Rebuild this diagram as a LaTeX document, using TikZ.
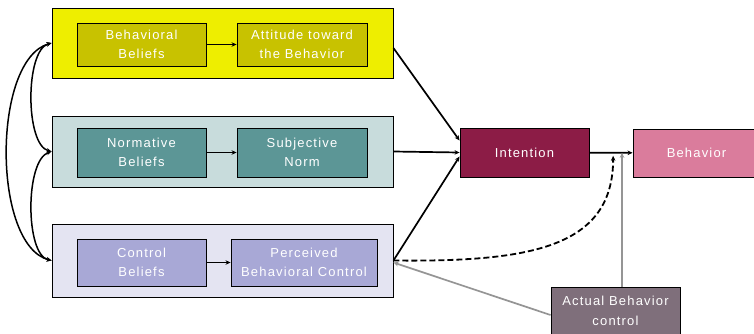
\documentclass[tikz,border=0pt]{standalone}
\usepackage{fontspec}
\newfontfamily\lblfont[LetterSpace=9]{Liberation Sans}
\usetikzlibrary{arrows.meta,calc}
\definecolor{yelout}{HTML}{EEEE00}
\definecolor{yelin}{HTML}{C8C200}
\definecolor{tealout}{HTML}{C8DCDC}
\definecolor{tealin}{HTML}{5C9696}
\definecolor{lavout}{HTML}{E4E4F2}
\definecolor{lavin}{HTML}{A8A8D6}
\definecolor{intcol}{HTML}{8C1C46}
\definecolor{behcol}{HTML}{DA7C9C}
\definecolor{abccol}{HTML}{7F6F7B}
\definecolor{greyline}{HTML}{959595}
\begin{document}
\begin{tikzpicture}[x=1pt,y=-1pt,
  outerbox/.style={draw=black,line width=0.9pt,minimum width=341pt,inner sep=0pt},
  innerbox/.style={draw=black,line width=0.9pt,minimum height=47pt,inner sep=1pt,
     text=white,align=center,font=\lblfont\fontsize{13}{19.5}\selectfont},
  conn/.style={line width=1.7pt,-{Stealth[length=5pt,width=4.5pt]}},
  both/.style={line width=1.5pt,{Stealth[length=5pt,width=4.5pt]}-{Stealth[length=5pt,width=4.5pt]}},
  greyconn/.style={line width=1.7pt,greyline,-{Stealth[length=5pt,width=4.5pt]}}]
\useasboundingbox (0,0) rectangle (754,333);
% outer boxes
\node[outerbox,fill=yelout,minimum height=70pt] (topo) at (222.5,43) {};
\node[outerbox,fill=tealout,minimum height=71pt] (mido) at (222.5,151.5) {};
\node[outerbox,fill=lavout,minimum height=73pt] (boto) at (222.5,260.5) {};
% inner boxes
\node[innerbox,fill=yelin,minimum width=129pt,minimum height=43pt] (bb) at (141.5,44.5) {Behavioral\\Beliefs};
\node[innerbox,fill=yelin,minimum width=130pt,minimum height=43pt] (att) at (302,44.5) {Attitude toward\\the Behavior};
\node[innerbox,fill=tealin,minimum width=129pt,minimum height=49pt] (nb) at (141.5,152.5) {Normative\\Beliefs};
\node[innerbox,fill=tealin,minimum width=130pt,minimum height=49pt] (sn) at (302,152.5) {Subjective\\Norm};
\node[innerbox,fill=lavin,minimum width=129pt] (cb) at (141.5,262.5) {Control\\Beliefs};
\node[innerbox,fill=lavin,minimum width=146pt] (pbc) at (304,262.5) {Perceived\\Behavioral Control};
% right side
\node[innerbox,fill=intcol,minimum width=129pt,minimum height=49pt] (int) at (524.5,152.5) {Intention};
\node[innerbox,fill=behcol,minimum width=127pt,minimum height=48pt] (beh) at (696.5,153) {Behavior};
\node[innerbox,fill=abccol,minimum width=129pt,minimum height=48pt] (abc) at (615.5,311) {Actual Behavior\\control};
% inner arrows
\draw[conn] (bb) -- (att);
\draw[conn] (nb) -- (sn);
\draw[conn] (cb) -- (pbc);
% to intention
\draw[conn] ($(topo.east)+(0,5)$) -- ($(int.west)+(0,-12)$);
\draw[conn] (mido.east) -- (int.west);
\draw[conn] (boto.east) -- ($(int.west)+(0,4)$);
% intention to behavior
\coordinate (junc) at ($(int.east)!0.55!(beh.west)$);
\draw[conn] (int) -- (beh);
\draw[line width=1.8pt,dashed,dash pattern=on 6pt off 3pt,-{Stealth[length=5pt,width=4.5pt]}]
  (boto.east) .. controls (530,262) and ($(junc)+(0,95)$) .. ($(junc)+(0,3)$);
% actual behavior control
\coordinate (abctop) at ($(abc.north)+(6.5,0)$);
\draw[greyconn] (abctop) -- (abctop |- junc);
\draw[greyconn] ($(abc.west)+(0,4)$) -- ($(boto.east)+(0,2)$);
% left correlations
\draw[both] (topo.west) .. controls (25,50) and (25,145) .. (mido.west);
\draw[both] (mido.west) .. controls (25,160) and (25,255) .. (boto.west);
\draw[both] (topo.west) .. controls (-8,60) and (-8,245) .. (boto.west);
\end{tikzpicture}
\end{document}
